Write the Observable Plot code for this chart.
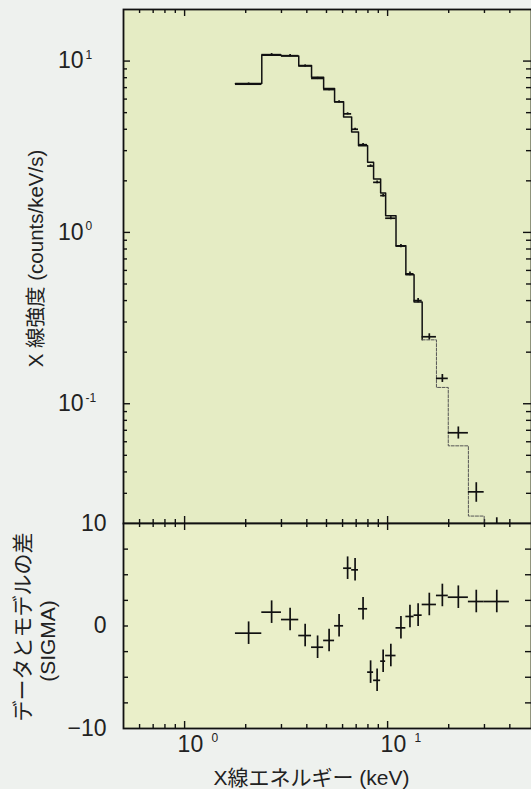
<!DOCTYPE html>
<html>
<head>
<meta charset="utf-8">
<script src="https://cdn.jsdelivr.net/npm/d3@7"></script>
<script src="https://cdn.jsdelivr.net/npm/@observablehq/plot@0.6"></script>
<style>
  html, body { margin: 0; padding: 0; background: #eef1ee; }
  #wrap { position: relative; width: 531px; height: 789px; background: #eef1ee; overflow: hidden; }
  #wrap svg { position: absolute; left: 0; top: 0; }
</style>
</head>
<body>
<div id="wrap"></div>
<script>
// ---- Data ----
// energy bin edges (keV)
const binEdges = [1.78, 2.40, 3.00, 3.65, 4.22, 4.84, 5.48, 6.07, 6.65, 7.19, 7.97, 8.53, 9.24, 9.78, 11.0, 12.3, 13.5, 14.8, 17.4, 19.9, 25.0, 29.9, 39.8];
// model count rate per bin (counts/keV/s)
const modelRate = [7.40, 10.8, 10.7, 9.42, 8.05, 6.92, 5.78, 4.72, 3.86, 3.20, 2.57, 2.05, 1.70, 1.25, 0.835, 0.566, 0.392, 0.236, 0.1245, 0.0568, 0.0221, 0.012];
// observed count rate per bin
const dataRate = [7.33, 10.9, 10.75, 9.36, 7.92, 6.82, 5.78, 4.92, 4.00, 3.25, 2.44, 1.96, 1.64, 1.21, 0.832, 0.573, 0.400, 0.246, 0.1406, 0.0677, 0.0306, 0.0196];
// 1-sigma error of observed rate
const dataErr = [0.12, 0.16, 0.16, 0.14, 0.12, 0.10, 0.09, 0.07, 0.06, 0.05, 0.04, 0.035, 0.03, 0.025, 0.018, 0.014, 0.012, 0.010, 0.0075, 0.0055, 0.0040, 0.0020];
// residual (data - model) in sigma
const residual = [-0.70, 1.35, 0.63, -0.93, -2.07, -1.41, 0.02, 5.64, 5.48, 1.68, -4.5, -5.3, -3.43, -2.88, -0.18, 0.93, 1.06, 2.10, 2.98, 2.81, 2.39, 2.39];
const residualErr = 1.1;
const solidModelBins = 17; // bins drawn with solid model line; the rest dotted

// axis ticks
const xDomain = [0.5, 50];
const xMajor = [1, 10];
const xMinor = [0.6, 0.7, 0.8, 0.9, 2, 3, 4, 5, 6, 7, 8, 9, 20, 30, 40];
const xTickExp = ["0", "1"];
const yDomainTop = [0.02, 20];
const yMajorTop = [10, 1, 0.1];
const yTickExpTop = ["1", "0", "-1"];
const yMinorTop = [0.03, 0.04, 0.05, 0.06, 0.07, 0.08, 0.09, 0.2, 0.3, 0.4, 0.5, 0.6, 0.7, 0.8, 0.9, 2, 3, 4, 5, 6, 7, 8, 9];
const yDomainBot = [-10, 10];
const yLabelsBot = [10, 0, -10];
const yLabelTextBot = ["10", "0", "\u221210"];
const yMinorBot = [-7.5, -5, -2.5, 0, 2.5, 5, 7.5];

const titleY = "X 線強度 (counts/keV/s)";
const titleYBot1 = "データとモデルの差";
const titleYBot2 = "(SIGMA)";
const titleX = "X線エネルギー (keV)";

// ---- derived tables ----
const bins = modelRate.map((m, i) => ({
  lo: binEdges[i], hi: binEdges[i + 1], c: Math.sqrt(binEdges[i] * binEdges[i + 1]),
  model: m, data: dataRate[i], err: dataErr[i], res: residual[i]
}));
const modelSolid = bins.slice(0, solidModelBins).flatMap(b => [{x: b.lo, y: b.model}, {x: b.hi, y: b.model}]);
modelSolid.push({x: bins[solidModelBins].lo, y: bins[solidModelBins].model});
const modelDot = bins.slice(solidModelBins).flatMap(b => [{x: b.lo, y: b.model}, {x: b.hi, y: b.model}]);

const W = 531, H = 789;
const mL = 123, mR = 0;
const xRange = [123, 529];
const topT = 9, split = 523, botB = 728;
const frameW = W - mL - mR;
const hTop = split - topT, hBot = botB - split;
const font = "'Liberation Sans', 'Noto Sans CJK JP', sans-serif";
const ink = "#111";
const txt = "#222";

function xTicks(h) {
  return [
    Plot.tickX(xMajor, {x: d => d, insetBottom: h - 7, stroke: ink, strokeWidth: 1.4}),
    Plot.tickX(xMinor, {x: d => d, insetBottom: h - 4, stroke: ink, strokeWidth: 1.4}),
    Plot.tickX(xMajor, {x: d => d, insetTop: h - 7, stroke: ink, strokeWidth: 1.4}),
    Plot.tickX(xMinor, {x: d => d, insetTop: h - 4, stroke: ink, strokeWidth: 1.4})
  ];
}

const spectrumPlot = Plot.plot({
  width: W, height: H,
  marginLeft: mL, marginRight: mR, marginTop: topT, marginBottom: H - split,
  style: {background: "transparent", overflow: "visible", fontFamily: font},
  x: {type: "log", domain: xDomain, range: xRange, axis: null},
  y: {type: "log", domain: yDomainTop, axis: null},
  marks: [
    Plot.frame({fill: "#e5ecc4", stroke: null}),
    ...xTicks(hTop),
    Plot.tickY(yMajorTop, {y: d => d, insetRight: frameW - 7, stroke: ink, strokeWidth: 1.4}),
    Plot.tickY(yMinorTop, {y: d => d, insetRight: frameW - 4, stroke: ink, strokeWidth: 1.4}),
    Plot.tickY(yMajorTop, {y: d => d, insetLeft: frameW - 8, stroke: ink, strokeWidth: 1.4}),
    Plot.tickY(yMinorTop, {y: d => d, insetLeft: frameW - 5, stroke: ink, strokeWidth: 1.4}),
    Plot.line(modelSolid, {x: "x", y: "y", stroke: ink, strokeWidth: 1.5, clip: true}),
    Plot.line(modelDot, {x: "x", y: "y", stroke: "#555", strokeWidth: 1, strokeDasharray: "3,1.5", clip: true}),
    Plot.ruleY(bins, {y: "data", x1: "lo", x2: "hi", stroke: ink, strokeWidth: 1.7, clip: true}),
    Plot.ruleX(bins, {x: "c", y1: d => d.data - d.err, y2: d => d.data + d.err, stroke: ink, strokeWidth: 1.7, clip: true}),
    Plot.frame({stroke: ink, strokeWidth: 1.8}),
    Plot.text(yMajorTop, {y: d => d, text: () => "10", frameAnchor: "left", textAnchor: "end", lineAnchor: "middle", dx: -40, fontSize: 23, fill: txt}),
    Plot.text(yMajorTop, {y: d => d, text: (d, i) => yTickExpTop[i], frameAnchor: "left", textAnchor: "start", lineAnchor: "middle", dx: -38, dy: -6, fontSize: 12, fill: txt}),
    Plot.text([titleY], {text: d => d, frameAnchor: "left", textAnchor: "middle", lineAnchor: "middle", rotate: -90, dx: -87, dy: -8, fontSize: 20.5, fill: txt})
  ]
});

const residualPlot = Plot.plot({
  width: W, height: H,
  marginLeft: mL, marginRight: mR, marginTop: split, marginBottom: H - botB,
  style: {background: "transparent", overflow: "visible", fontFamily: font},
  x: {type: "log", domain: xDomain, range: xRange, axis: null},
  y: {domain: yDomainBot, axis: null},
  marks: [
    Plot.frame({fill: "#eaefc9", stroke: null}),
    ...xTicks(hBot),
    Plot.tickY(yMinorBot, {y: d => d, insetRight: frameW - 5, stroke: ink, strokeWidth: 1.4}),
    Plot.tickY(yMinorBot, {y: d => d, insetLeft: frameW - 6, stroke: ink, strokeWidth: 1.4}),
    Plot.ruleY(bins, {y: "res", x1: "lo", x2: "hi", stroke: ink, strokeWidth: 1.7, clip: true}),
    Plot.ruleX(bins, {x: "c", y1: d => d.res - residualErr, y2: d => d.res + residualErr, stroke: ink, strokeWidth: 1.7, clip: true}),
    Plot.frame({stroke: ink, strokeWidth: 1.8}),
    Plot.text(yLabelsBot, {y: d => d, text: (d, i) => yLabelTextBot[i], frameAnchor: "left", textAnchor: "end", lineAnchor: "middle", dx: -17, fontSize: 23, fill: txt}),
    Plot.text(xMajor, {x: d => d, text: () => "10", frameAnchor: "bottom", textAnchor: "start", lineAnchor: "middle", dx: -7, dy: 16, fontSize: 23, fill: txt}),
    Plot.text(xMajor, {x: d => d, text: (d, i) => xTickExp[i], frameAnchor: "bottom", textAnchor: "start", lineAnchor: "middle", dx: 27, dy: 10, fontSize: 12, fill: txt}),
    Plot.text([titleYBot1], {text: d => d, frameAnchor: "left", textAnchor: "middle", lineAnchor: "middle", rotate: -90, dx: -100, dy: 1, fontSize: 21, fill: txt}),
    Plot.text([titleYBot2], {text: d => d, frameAnchor: "left", textAnchor: "middle", lineAnchor: "middle", rotate: -90, dx: -75, dy: 15, fontSize: 21, fill: txt}),
    Plot.text([titleX], {text: d => d, frameAnchor: "bottom", textAnchor: "middle", lineAnchor: "middle", dx: -16, dy: 50, fontSize: 21, fill: txt})
  ]
});

const wrap = document.getElementById("wrap");
wrap.appendChild(spectrumPlot);
wrap.appendChild(residualPlot);
</script>
</body>
</html>
